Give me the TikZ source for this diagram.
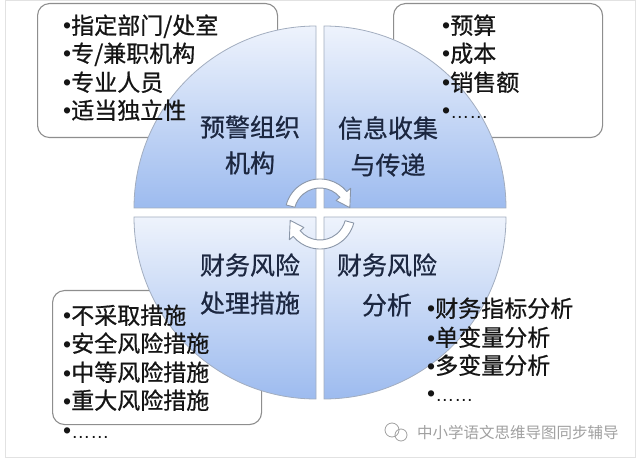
\documentclass[tikz,border=0pt]{standalone}
\usepackage{fontspec}
\setmainfont{Liberation Sans}
\newfontfamily\cjk[FakeBold=0.7]{Noto Sans CJK SC}
\newfontfamily\cjkwm{Noto Sans CJK SC}
\definecolor{qtop}{HTML}{EEF3FC}
\definecolor{qbot}{HTML}{9DBBEF}
\definecolor{qline}{HTML}{A2ADBF}
\definecolor{boxline}{HTML}{8E8E8E}
\definecolor{itemcol}{HTML}{151515}
\definecolor{labelcol}{HTML}{1C2740}
\definecolor{arrowline}{HTML}{8A96A8}
\definecolor{wmcol}{HTML}{A0A0A0}
\definecolor{framecol}{HTML}{E2E2E2}
\newcommand\itemfont{\cjk\fontsize{23}{28}\selectfont}
\newcommand\labelfont{\cjk\fontsize{25}{30}\selectfont}
\newcommand\wmfont{\cjkwm\fontsize{15.5}{18}\selectfont}
\newcommand\bul{{\rmfamily •}}
\newcommand\dotsline{{\rmfamily\fontsize{19}{20}\selectfont ……}}
\tikzset{
  quad/.style={draw=qline, line width=0.8pt, top color=qtop, bottom color=qbot},
  infobox/.style={draw=boxline, fill=white, rounded corners=12pt, line width=1.1pt, inner sep=0pt},
  item/.style={anchor=base west, inner sep=0pt, font=\itemfont, text=itemcol},
  qlabel/.style={anchor=center, inner sep=0pt, font=\labelfont, text=labelcol},
  cyc/.style={fill=white, draw=arrowline, line width=0.9pt, line join=round},
}
\begin{document}
\begin{tikzpicture}[x=1pt,y=1pt]
\useasboundingbox (0,0) rectangle (640,461);
\draw[framecol, line width=1pt] (5,460.5) rectangle (635,4);
% boxes (behind the quadrants)
\node[infobox, minimum width=240pt, minimum height=134pt, anchor=north west] (box1) at (37,458) {};
\node[infobox, minimum width=209pt, minimum height=134pt, anchor=north west] (box2) at (393,458) {};
\node[infobox, minimum width=209pt, minimum height=134pt, anchor=north west] (box3) at (52,171) {};
% quadrants
\path[quad] (316,253) -- ++(-182,0) arc[start angle=180, end angle=90, radius=182pt] -- cycle;
\path[quad] (324,253) -- ++(182,0) arc[start angle=0, end angle=90, radius=182pt] -- cycle;
\path[quad] (316,244) -- ++(-182,0) arc[start angle=180, end angle=270, radius=182pt] -- cycle;
\path[quad] (324,244) -- ++(182,0) arc[start angle=0, end angle=-90, radius=182pt] -- cycle;
% cycle arrows
\begin{scope}[shift={(320,247)}]
\draw[cyc] (165:35pt) arc[start angle=165, end angle=40, radius=35pt] -- (40:40pt) -- (12:30.5pt) -- (40:21pt) -- (40:26pt) arc[start angle=40, end angle=165, radius=26pt] -- cycle;
\draw[cyc] (345:35pt) arc[start angle=345, end angle=220, radius=35pt] -- (220:40pt) -- (192:30.5pt) -- (220:21pt) -- (220:26pt) arc[start angle=220, end angle=345, radius=26pt] -- cycle;
\end{scope}
% quadrant labels
\node[qlabel] (ul1) at (250,334) {预警组织};
\node[qlabel] (ul2) at (250,298) {机构};
\node[qlabel] (ur1) at (388,333) {信息收集};
\node[qlabel] (ur2) at (388,296) {与传递};
\node[qlabel] (ll1) at (250,196) {财务风险};
\node[qlabel] (ll2) at (250,158) {处理措施};
\node[qlabel] (lr1) at (387,196) {财务风险};
\node[qlabel] (lr2) at (387,156) {分析};
% lists
\node[item] (a1) at (63,427) {\bul 指定部门/处室};
\node[item] (a2) at (63,399) {\bul 专/兼职机构};
\node[item] (a3) at (63,370) {\bul 专业人员};
\node[item] (a4) at (63,342) {\bul 适当独立性};
\node[item] (b1) at (442,427) {\bul 预算};
\node[item] (b2) at (442,399) {\bul 成本};
\node[item] (b3) at (442,370) {\bul 销售额};
\node[item] (b4) at (442,342) {\bul\dotsline};
\node[item] (c1) at (63,137) {\bul 不采取措施};
\node[item] (c2) at (63,109) {\bul 安全风险措施};
\node[item] (c3) at (63,80) {\bul 中等风险措施};
\node[item] (c4) at (63,52) {\bul 重大风险措施};
\node[item] (c5) at (63,23) {\bul\dotsline};
\node[item] (d1) at (427,144) {\bul 财务指标分析};
\node[item] (d2) at (427,115) {\bul 单变量分析};
\node[item] (d3) at (427,87) {\bul 多变量分析};
\node[item] (d4) at (427,60) {\bul\dotsline};
% watermark
\draw[wmcol, line width=0.8pt] (392,31) circle[radius=7pt];
\draw[wmcol, line width=0.8pt] (401,26) circle[radius=6pt];
\node[anchor=base west, inner sep=0pt, font=\wmfont, text=wmcol] (wm) at (417,23) {中小学语文思维导图同步辅导};
\end{tikzpicture}
\end{document}
